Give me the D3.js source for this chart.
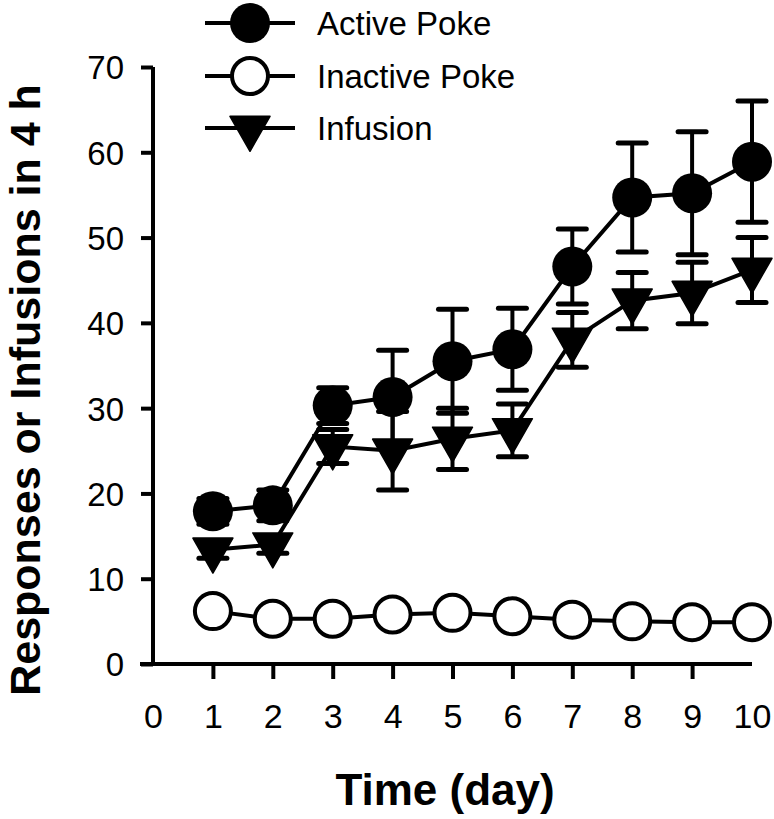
<!DOCTYPE html>
<html>
<head>
<meta charset="utf-8">
<script src="https://cdn.jsdelivr.net/npm/d3@7"></script>
<style>
  html, body { margin: 0; padding: 0; background: #fff; }
  svg { display: block; }
  text { font-family: "Liberation Sans", Arial, sans-serif; fill: #000; }
</style>
</head>
<body>
<script>
const days = [1, 2, 3, 4, 5, 6, 7, 8, 9, 10];
const activeMean = [17.9, 18.6, 30.3, 31.3, 35.5, 36.9, 46.6, 54.7, 55.2, 58.9];
const activeErr  = [1.5, 1.8, 2.1, 5.5, 6.1, 4.8, 4.4, 6.4, 7.2, 7.1];
const inactiveMean = [6.2, 5.3, 5.3, 5.8, 6.0, 5.6, 5.2, 5.0, 4.9, 4.9];
const infusionMean = [13.4, 14.0, 25.5, 25.0, 26.4, 27.4, 38.0, 42.6, 43.5, 46.2];
const infusionErr  = [1.0, 1.0, 2.0, 4.6, 3.6, 3.1, 3.2, 3.3, 3.6, 3.8];
const xTicks = [0, 1, 2, 3, 4, 5, 6, 7, 8, 9, 10];
const yTicks = [0, 10, 20, 30, 40, 50, 60, 70];
const legendLabels = ["Active Poke", "Inactive Poke", "Infusion"];

const W = 774, H = 819;
const svg = d3.select("body").append("svg").attr("width", W).attr("height", H);

const x = d3.scaleLinear().domain([0, 10]).range([153, 752]);
const y = d3.scaleLinear().domain([0, 70]).range([664, 67]);

const SW = 4;

// Y axis
const yAxis = svg.append("g").attr("transform", `translate(${x(0)},0)`)
  .call(d3.axisLeft(y).tickValues(yTicks).tickSize(12).tickPadding(17).tickSizeOuter(0));
yAxis.select(".domain").attr("stroke-width", SW).attr("d", `M0,${y(70)}V${y(0)}`);
yAxis.selectAll(".tick line").attr("stroke-width", SW);
yAxis.selectAll(".tick text").style("font-size", "33px").attr("dy", "0.36em");

// X axis
const xAxis = svg.append("g").attr("transform", `translate(0,${y(0)})`)
  .call(d3.axisBottom(x).tickValues(xTicks).tickSize(15).tickPadding(0).tickSizeOuter(0));
xAxis.select(".domain").attr("stroke-width", SW).attr("d", `M${x(0) - 13},0H${x(10)}`);
xAxis.selectAll(".tick line").attr("stroke-width", SW)
  .attr("display", d => (d === 0 || d === 10) ? "none" : null);
xAxis.selectAll(".tick text").style("font-size", "34px").attr("y", 0).attr("dy", 0)
  .attr("transform", "translate(0,64)");
xAxis.selectAll("path, line").attr("stroke", "#000");

// Titles
svg.append("text").attr("x", 445).attr("y", 805).attr("text-anchor", "middle")
  .style("font-size", "44px").style("font-weight", "bold").text("Time (day)");
svg.append("text").attr("transform", "translate(40,390) rotate(-90)").attr("text-anchor", "middle")
  .style("font-size", "43px").style("font-weight", "bold").text("Responses or Infusions in 4 h");

const plot = svg.append("g");

const line = d3.line().x((d, i) => x(days[i])).y(d => y(d));

// connecting lines
[activeMean, infusionMean, inactiveMean].forEach(arr => {
  plot.append("path").attr("d", line(arr)).attr("fill", "none")
    .attr("stroke", "#000").attr("stroke-width", SW);
});

// error bars
function errorBars(mean, err) {
  const g = plot.append("g");
  days.forEach((dd, i) => {
    const cx = x(dd), lo = y(mean[i] - err[i]), hi = y(mean[i] + err[i]);
    g.append("line").attr("x1", cx).attr("x2", cx).attr("y1", lo).attr("y2", hi)
      .attr("stroke", "#000").attr("stroke-width", SW);
    [lo, hi].forEach(yy => {
      g.append("line").attr("x1", cx - 14).attr("x2", cx + 14).attr("y1", yy).attr("y2", yy)
        .attr("stroke", "#000").attr("stroke-width", SW + 1).attr("stroke-linecap", "round");
    });
  });
}
errorBars(activeMean, activeErr);
errorBars(infusionMean, infusionErr);

// markers
function triPath(cx, cy) {
  const w = 40, h = 35;
  return `M${cx - w / 2},${cy - h / 3}L${cx + w / 2},${cy - h / 3}L${cx},${cy + 2 * h / 3}Z`;
}
plot.append("g").selectAll("path").data(infusionMean).join("path")
  .attr("d", (d, i) => triPath(x(days[i]), y(d))).attr("fill", "#000")
  .attr("stroke", "#000").attr("stroke-width", 1.5).attr("stroke-linejoin", "round");
plot.append("g").selectAll("circle").data(activeMean).join("circle")
  .attr("cx", (d, i) => x(days[i])).attr("cy", d => y(d)).attr("r", 20).attr("fill", "#000");
plot.append("g").selectAll("circle").data(inactiveMean).join("circle")
  .attr("cx", (d, i) => x(days[i])).attr("cy", d => y(d)).attr("r", 18)
  .attr("fill", "#fff").attr("stroke", "#000").attr("stroke-width", SW);

// legend
const legY = [23, 76, 128];
const leg = svg.append("g");
legendLabels.forEach((lab, i) => {
  const yy = legY[i];
  leg.append("line").attr("x1", 205).attr("x2", 295).attr("y1", yy).attr("y2", yy)
    .attr("stroke", "#000").attr("stroke-width", SW);
  if (i === 0) leg.append("circle").attr("cx", 250).attr("cy", yy).attr("r", 20).attr("fill", "#000");
  if (i === 1) leg.append("circle").attr("cx", 250).attr("cy", yy).attr("r", 18)
    .attr("fill", "#fff").attr("stroke", "#000").attr("stroke-width", SW);
  if (i === 2) leg.append("path").attr("d", triPath(250, yy)).attr("fill", "#000")
    .attr("stroke", "#000").attr("stroke-width", 1.5).attr("stroke-linejoin", "round");
  leg.append("text").attr("x", 317).attr("y", yy).attr("dy", "0.36em")
    .style("font-size", "33px").text(lab);
});
</script>
</body>
</html>
